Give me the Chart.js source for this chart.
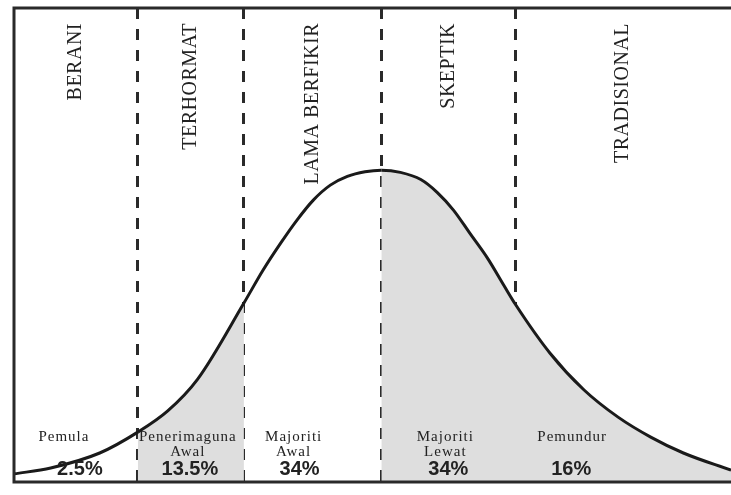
<!DOCTYPE html>
<html>
<head>
<meta charset="utf-8">
<script src="https://cdn.jsdelivr.net/npm/chart.js@4/dist/chart.umd.min.js"></script>
<style>
  html, body { margin: 0; padding: 0; background: #fff; overflow: hidden; }
  #wrap { width: 731px; height: 495px; position: relative; }
</style>
</head>
<body>
<div id="wrap"><canvas id="curve"></canvas></div>
<script>
// adopter groups, left to right
const groups = ['BERANI', 'TERHORMAT', 'LAMA BERFIKIR', 'SKEPTIK', 'TRADISIONAL']
const adopters = [['Pemula'], ['Penerimaguna', 'Awal'], ['Majoriti', 'Awal'], ['Majoriti', 'Lewat'], ['Pemundur']]
const shares = [2.5, 13.5, 34, 34, 16]
const shaded = [false, true, false, true, true]

// group boundaries, in standard deviations from the mean
const boundaries = [-1.79, -1.01, 0, 0.985]

// bell curve (x in std devs, height relative to the peak)
const curveX = [-2.70, -2.43, -2.07, -1.79, -1.57, -1.35, -1.01, -0.87, -0.74, -0.62, -0.50, -0.375, -0.25, -0.12, 0,
  0.14, 0.29, 0.41, 0.53, 0.65, 0.78, 0.90, 0.985, 1.24, 1.49, 1.74, 1.98, 2.22, 2.57]
const curveY = [0.026, 0.045, 0.093, 0.160, 0.228, 0.330, 0.574, 0.679, 0.766, 0.840, 0.904, 0.952, 0.980, 0.995, 1.0,
  0.993, 0.970, 0.929, 0.872, 0.798, 0.718, 0.631, 0.570, 0.413, 0.295, 0.208, 0.144, 0.093, 0.038]

const xMin = -2.70
const xMax = 2.57

const ink = '#222'
const shade = '#dedede'

function regionOf(x) {
  let i = 0
  while (i < boundaries.length && x >= boundaries[i] - 1e-6) i++
  return i
}

// frame + texts
const decor = {
  id: 'decor',
  afterDraw(chart) {
    const { ctx, chartArea: a } = chart
    const xs = chart.scales.x
    ctx.save()
    ctx.strokeStyle = '#2a2a2a'
    ctx.lineWidth = 3
    ctx.beginPath()
    ctx.moveTo(a.right + 5, a.top)
    ctx.lineTo(a.left, a.top)
    ctx.lineTo(a.left, a.bottom)
    ctx.lineTo(a.right + 5, a.bottom)
    ctx.stroke()

    const edges = [xMin, ...boundaries, xMax]
    const nameShift = [-12, -3, -19, -3, -51]
    const pctShift = [4, -1, -13, 0, -52]
    ctx.fillStyle = ink
    groups.forEach((g, i) => {
      const cx = (xs.getPixelForValue(edges[i]) + xs.getPixelForValue(edges[i + 1])) / 2
      // vertical group names
      ctx.save()
      ctx.translate(cx, a.top + 15)
      ctx.rotate(-Math.PI / 2)
      ctx.font = '20px "Liberation Serif"'
      ctx.letterSpacing = '0.5px'
      ctx.textAlign = 'right'
      ctx.textBaseline = 'middle'
      ctx.fillText(g, 0, 0)
      ctx.restore()

      ctx.textAlign = 'center'
      ctx.textBaseline = 'middle'
      ctx.font = '15px "Liberation Serif"'
      ctx.letterSpacing = '1px'
      adopters[i].forEach((t, j) => {
        ctx.fillText(t, cx + nameShift[i], a.bottom - 45 + j * 15)
      })
      ctx.font = 'bold 20px "Liberation Sans"'
      ctx.letterSpacing = '0px'
      ctx.fillText(shares[i] + '%', cx + pctShift[i], a.bottom - 13)
    })
    ctx.restore()
  }
}

const ctx = document.getElementById('curve')
window.myCurve = new Chart(ctx, {
  type: 'line',
  data: {
    datasets: [{
      data: curveX.map((x, i) => ({ x, y: curveY[i] })),
      borderColor: '#1a1a1a',
      borderWidth: 3,
      pointRadius: 0,
      cubicInterpolationMode: 'monotone',
      fill: 'origin',
      backgroundColor: 'rgba(0,0,0,0)',
      segment: {
        backgroundColor: c => shaded[regionOf((c.p0.parsed.x + c.p1.parsed.x) / 2)] ? shade : undefined
      }
    }]
  },
  options: {
    responsive: true,
    maintainAspectRatio: false,
    animation: false,
    layout: { padding: { left: 14, top: 8, right: 0, bottom: 13 } },
    plugins: { legend: { display: false }, tooltip: { enabled: false } },
    scales: {
      x: {
        type: 'linear',
        min: xMin,
        max: xMax,
        z: 1,
        afterBuildTicks: s => { s.ticks = boundaries.map(v => ({ value: v })) },
        ticks: { display: false },
        grid: { color: '#2a2a2a', lineWidth: 3, drawTicks: false, tickLength: 0 },
        border: { display: false, dash: [11, 10] }
      },
      y: { display: false, min: 0, max: 1.52 }
    }
  },
  plugins: [decor]
})
</script>
</body>
</html>
